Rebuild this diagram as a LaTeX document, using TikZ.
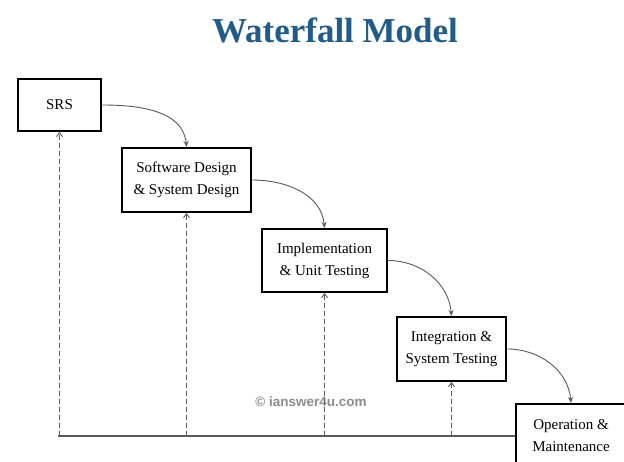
\documentclass[tikz,border=0pt]{standalone}
\usepackage{fontspec}
\setmainfont{Liberation Serif}
\newfontfamily\wmfont{Liberation Sans}
\usetikzlibrary{arrows.meta}
\definecolor{titleblue}{HTML}{215B8A}
\definecolor{flowgray}{HTML}{5A5A5A}
\definecolor{wmgray}{HTML}{8C8C8C}
\tikzset{
  stage/.style={draw=black, line width=2pt, fill=white, align=center,
    font=\fontsize{15}{22}\selectfont, inner sep=0pt},
  flow/.style={draw=flowgray, line width=0.9pt, -{Stealth[length=6pt,width=5pt]}},
  feedback/.style={draw=flowgray, line width=0.9pt, dash pattern=on 5pt off 3pt,
    -{Straight Barb[length=4pt,width=6pt]}},
  baseline/.style={draw=flowgray, line width=1.3pt},
  titletext/.style={font=\fontsize{35}{40}\selectfont\bfseries},
}
\begin{document}
\begin{tikzpicture}[x=1pt,y=-1pt]
\fill[white] (0,0) rectangle (624,462);
\useasboundingbox (0,0) rectangle (624,462);
\node[titletext, text=titleblue] (title) at (335,30) {Waterfall Model};
% stages
\node[stage, minimum width=83pt, minimum height=52pt] (srs) at (59.5,105) {SRS};
\node[stage, minimum width=129pt, minimum height=64pt] (sw) at (186.5,180) {Software Design\\ \& System Design};
\node[stage, minimum width=125pt, minimum height=63pt] (impl) at (324.5,260.5) {Implementation\\ \& Unit Testing};
\node[stage, minimum width=109pt, minimum height=64pt] (integ) at (451.5,349) {Integration \&\\ System Testing};
\node[stage, minimum width=110pt, minimum height=64pt] (op) at (571,436) {Operation \&\\ Maintenance};
% watermark
\node[font=\wmfont\bfseries\fontsize{13.5}{15}\selectfont, text=wmgray] (wm) at (311,402) {© ianswer4u.com};
% flows
\draw[flow] (srs.east) to[out=0,in=95] (sw.north);
\draw[flow] (sw.east) to[out=0,in=95] (impl.north);
\draw[flow] (impl.east) to[out=0,in=95] (integ.north);
\draw[flow] (integ.east) to[out=0,in=95] (op.north);
% base line
\coordinate (baseL) at (58,436);
\draw[baseline] (baseL) -- (op.west);
% feedback
\draw[feedback] (srs.south |- baseL) -- (srs.south);
\draw[feedback] (sw.south |- baseL) -- (sw.south);
\draw[feedback] (impl.south |- baseL) -- (impl.south);
\draw[feedback] (integ.south |- baseL) -- (integ.south);
\end{tikzpicture}
\end{document}
